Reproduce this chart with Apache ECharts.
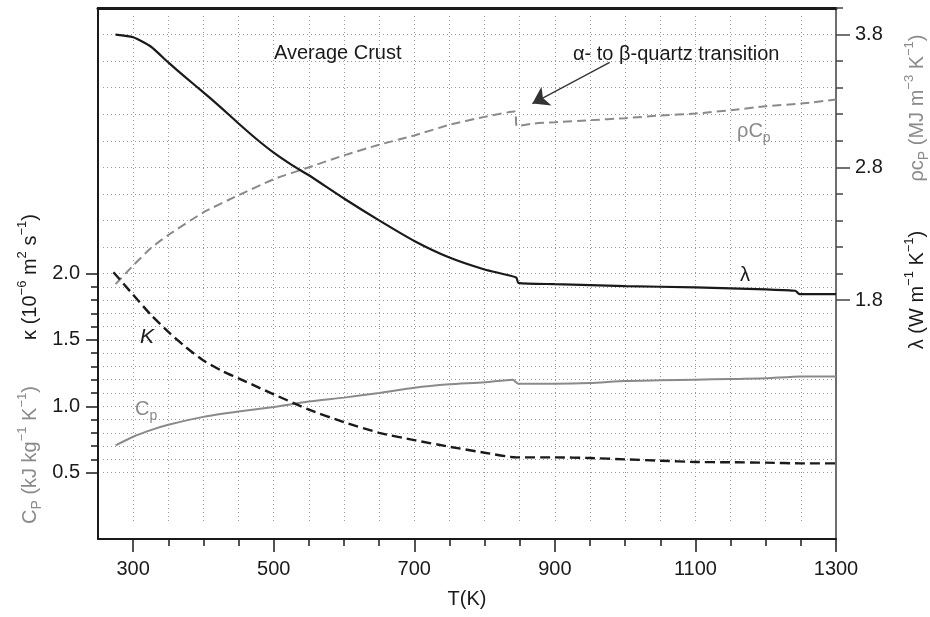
<!DOCTYPE html>
<html><head><meta charset="utf-8">
<script src="https://cdn.jsdelivr.net/npm/echarts@6/dist/echarts.min.js"></script>
<style>html,body{margin:0;padding:0;background:#fff}#c{width:930px;height:617px}</style>
</head><body><div id="c"></div>
<script>
// ---- data (T in K) ----
const T_lambda = [275, 300, 325, 350, 375, 400, 425, 450, 475, 500, 525, 550, 600, 650, 700, 750, 800, 845, 848, 900, 1000, 1100, 1200, 1242, 1248, 1300];
const lambda   = [3.80, 3.78, 3.71, 3.59, 3.475, 3.365, 3.25, 3.13, 3.015, 2.91, 2.82, 2.74, 2.565, 2.40, 2.245, 2.12, 2.03, 1.97, 1.93, 1.92, 1.905, 1.895, 1.88, 1.87, 1.845, 1.845];

const T_rhoCp = [275, 300, 325, 350, 400, 450, 500, 550, 600, 650, 700, 750, 800, 843, 846, 870, 900, 950, 1000, 1050, 1100, 1150, 1200, 1250, 1300];
const rhoCp   = [1.92, 2.06, 2.19, 2.29, 2.46, 2.59, 2.71, 2.80, 2.89, 2.97, 3.04, 3.12, 3.18, 3.22, 3.11, 3.13, 3.14, 3.155, 3.17, 3.19, 3.205, 3.23, 3.26, 3.28, 3.31];

const T_kappa = [272, 300, 325, 350, 375, 400, 425, 450, 475, 500, 550, 600, 650, 700, 750, 800, 845, 900, 950, 1000, 1050, 1100, 1150, 1200, 1250, 1300];
const kappa   = [2.01, 1.84, 1.69, 1.56, 1.445, 1.345, 1.27, 1.21, 1.15, 1.09, 0.975, 0.88, 0.80, 0.745, 0.695, 0.65, 0.615, 0.615, 0.61, 0.60, 0.59, 0.58, 0.578, 0.575, 0.57, 0.57];

const T_cp = [275, 300, 325, 350, 400, 450, 500, 550, 600, 650, 700, 750, 800, 840, 848, 900, 950, 1000, 1050, 1100, 1150, 1200, 1250, 1300];
const cp   = [0.705, 0.77, 0.82, 0.86, 0.92, 0.96, 0.995, 1.035, 1.065, 1.10, 1.14, 1.165, 1.18, 1.20, 1.17, 1.17, 1.175, 1.19, 1.195, 1.20, 1.205, 1.21, 1.225, 1.225];

// ---- ticks ----
const xMajorTicks = [300, 500, 700, 900, 1100, 1300];
const xMinorTicks = [300, 350, 400, 450, 500, 550, 600, 650, 700, 750, 800, 850, 900, 950, 1000, 1050, 1100, 1150, 1200, 1250];
const leftLabels = [0.5, 1.0, 1.5, 2.0];
const leftMinorTicks = [0.5, 0.6, 0.7, 0.8, 0.9, 1.0, 1.1, 1.2, 1.3, 1.4, 1.5, 1.6, 1.7, 1.8, 1.9, 2.0];
const rightLabels = [1.8, 2.8, 3.8];
const rightMinorTicks = [1.8, 2.0, 2.2, 2.4, 2.6, 2.8, 3.0, 3.2, 3.4, 3.6, 3.8, 4.0];
const hGridValues = [0.5, 0.6, 0.7, 0.8, 0.9, 1.0, 1.1, 1.2, 1.3, 1.4, 1.5, 1.6, 1.7, 1.8, 1.9, 2.0, 2.2, 2.4, 2.6, 2.8, 3.0, 3.2, 3.4, 3.6, 3.8];

// annotation arrow (data coords on right axis)
const arrowTail = [978, 3.59];
const arrowHead = [868, 3.28];

const FONT = '"Liberation Sans", Arial, Helvetica, sans-serif';
const BLACK = '#1a1a1a', GRAY = '#8a8a8a', GRID = '#9a9a9a';
const zip = (a, b) => a.map((t, i) => [t, b[i]]);

const chart = echarts.init(document.getElementById('c'), null, {renderer: 'canvas'});

function rt(color, size) {
  return {
    n: {fontSize: size, fontFamily: FONT, fill: color, color: color, lineHeight: 28, verticalAlign: 'middle'},
    sup: {fontSize: 13, fontFamily: FONT, fill: color, color: color, lineHeight: 13, verticalAlign: 'top'},
    sub: {fontSize: 14, fontFamily: FONT, fill: color, color: color, lineHeight: 14, verticalAlign: 'bottom'}
  };
}
function txt(x, y, text, color, extra) {
  return Object.assign({type: 'text', x: x, y: y, z: 100,
    style: {text: text, fontSize: 20, fontFamily: FONT, fill: color, align: 'left', verticalAlign: 'middle'}}, extra || {});
}
function richTxt(x, y, text, color, rotation, align) {
  return {type: 'text', x: x, y: y, z: 100, rotation: rotation || 0,
    style: {text: text, rich: rt(color, 20), fontSize: 20, fontFamily: FONT, fill: color, align: align || 'center', verticalAlign: 'middle'}};
}

const SMOOTH = 0.2;
const option = {
  animation: false,
  backgroundColor: '#fff',
  textStyle: {fontFamily: FONT},
  grid: [
    {left: 98, right: 94, top: 8, bottom: 78},
    {left: 98, right: 94, top: 16, bottom: 95},
    {left: 103, right: 97, top: 8, bottom: 78}
  ],
  xAxis: [
    {gridIndex: 0, type: 'value', min: 250, max: 1300, position: 'bottom',
     axisLine: {onZero: false, lineStyle: {color: BLACK, width: 2}},
     axisTick: {customValues: xMajorTicks, length: 13, lineStyle: {color: BLACK, width: 1.5}},
     axisLabel: {customValues: xMajorTicks, formatter: v => String(v), fontSize: 20, color: BLACK, margin: 20, fontFamily: FONT},
     splitLine: {show: false},
     name: 'T(K)', nameLocation: 'middle', nameGap: 50,
     nameTextStyle: {fontSize: 20, color: BLACK, fontFamily: FONT}},
    {gridIndex: 0, type: 'value', min: 250, max: 1300, position: 'bottom',
     axisLine: {show: false, onZero: false},
     axisTick: {customValues: xMinorTicks, length: 7, lineStyle: {color: BLACK, width: 1.5}},
     axisLabel: {show: false}, splitLine: {show: false}},
    {gridIndex: 0, type: 'value', min: 250, max: 1300, position: 'top',
     axisLine: {onZero: false, lineStyle: {color: BLACK, width: 3}},
     axisTick: {show: false}, axisLabel: {show: false}, splitLine: {show: false}},
    {gridIndex: 1, type: 'value', min: 250, max: 1300, position: 'bottom',
     axisLine: {show: false, onZero: false},
     axisTick: {show: false, customValues: xMinorTicks}, axisLabel: {show: false},
     splitLine: {show: true, lineStyle: {color: GRID, type: [1, 3], width: 1}}},
    {gridIndex: 2, type: 'value', min: 250, max: 1300, show: false}
  ],
  yAxis: [
    {gridIndex: 0, type: 'value', min: 0, max: 4, position: 'left',
     axisLine: {show: true, onZero: false, lineStyle: {color: BLACK, width: 2}},
     axisTick: {customValues: leftLabels, length: 12, lineStyle: {color: BLACK, width: 1.5}},
     axisLabel: {customValues: leftLabels, formatter: v => v.toFixed(1), fontSize: 20, color: BLACK, margin: 18, fontFamily: FONT},
     splitLine: {show: false}},
    {gridIndex: 0, type: 'value', min: 0, max: 4, position: 'left',
     axisLine: {show: false, onZero: false},
     axisTick: {customValues: leftMinorTicks, length: 7, lineStyle: {color: BLACK, width: 1.5}},
     axisLabel: {show: false}, splitLine: {show: false}},
    {gridIndex: 0, type: 'value', min: 0, max: 4, position: 'right',
     axisLine: {show: true, onZero: false, lineStyle: {color: '#6e6e6e', width: 2}},
     axisTick: {customValues: rightLabels, length: 14, lineStyle: {color: '#444', width: 1.5}},
     axisLabel: {customValues: rightLabels, formatter: v => v.toFixed(1), fontSize: 20, color: BLACK, margin: 19, fontFamily: FONT},
     splitLine: {show: false}},
    {gridIndex: 0, type: 'value', min: 0, max: 4, position: 'right',
     axisLine: {show: false, onZero: false},
     axisTick: {customValues: rightMinorTicks, length: 7, lineStyle: {color: '#444', width: 1.5}},
     axisLabel: {show: false}, splitLine: {show: false}},
    {gridIndex: 1, type: 'value', min: 0, max: 4, show: false},
    {gridIndex: 2, type: 'value', min: 0, max: 4, position: 'left',
     axisLine: {show: false, onZero: false},
     axisTick: {show: false, customValues: hGridValues}, axisLabel: {show: false},
     splitLine: {show: true, lineStyle: {color: GRID, type: [1, 3], width: 1}}}
  ],
  series: [
    {name: 'lambda', type: 'line', xAxisIndex: 0, yAxisIndex: 2, data: zip(T_lambda, lambda),
     showSymbol: false, smooth: SMOOTH, lineStyle: {color: BLACK, width: 2.2}, z: 5},
    {name: 'rhoCp', type: 'line', xAxisIndex: 0, yAxisIndex: 2, data: zip(T_rhoCp, rhoCp),
     showSymbol: false, smooth: SMOOTH, lineStyle: {color: GRAY, width: 2, type: [9, 5]}, z: 4,
     markLine: {silent: true, symbol: ['none', 'arrow'], symbolSize: 16,
       lineStyle: {color: '#333', width: 1.3, type: 'solid'}, label: {show: false},
       data: [[{coord: arrowTail}, {coord: arrowHead}]]}},
    {name: 'kappa', type: 'line', xAxisIndex: 0, yAxisIndex: 0, data: zip(T_kappa, kappa),
     showSymbol: false, smooth: SMOOTH, lineStyle: {color: BLACK, width: 2.4, type: [10, 5]}, z: 5},
    {name: 'cp', type: 'line', xAxisIndex: 0, yAxisIndex: 0, data: zip(T_cp, cp),
     showSymbol: false, smooth: SMOOTH, lineStyle: {color: GRAY, width: 2}, z: 4}
  ],
  graphic: [
    txt(274, 53, 'Average Crust', BLACK),
    txt(573, 54, 'α- to β-quartz transition', BLACK),
    txt(745, 275, 'λ', BLACK, {style: {text: 'λ', fontSize: 20, fontFamily: FONT, fill: BLACK, align: 'center', verticalAlign: 'middle'}}),
    richTxt(737, 131, '{n|ρC}{sub|p}', GRAY, 0, 'left'),
    txt(147, 337, 'Κ', BLACK, {style: {text: 'Κ', fontSize: 21, fontStyle: 'italic', fontFamily: FONT, fill: BLACK, align: 'center', verticalAlign: 'middle'}}),
    richTxt(135, 409, '{n|C}{sub|p}', GRAY, 0, 'left'),
    richTxt(30, 277, '{n|κ (10}{sup|−6}{n| m}{sup|2}{n| s}{sup|−1}{n|)}', BLACK, Math.PI / 2),
    richTxt(30, 455, '{n|C}{sub|P}{n| (kJ kg}{sup|−1}{n| K}{sup|−1}{n|)}', GRAY, Math.PI / 2),
    richTxt(917, 108, '{n|ρc}{sub|P}{n| (MJ m}{sup|−3}{n| K}{sup|−1}{n|)}', GRAY, Math.PI / 2),
    richTxt(917, 290, '{n|λ (W m}{sup|−1}{n| K}{sup|−1}{n|)}', BLACK, Math.PI / 2)
  ]
};
chart.setOption(option);
</script>
</body></html>
